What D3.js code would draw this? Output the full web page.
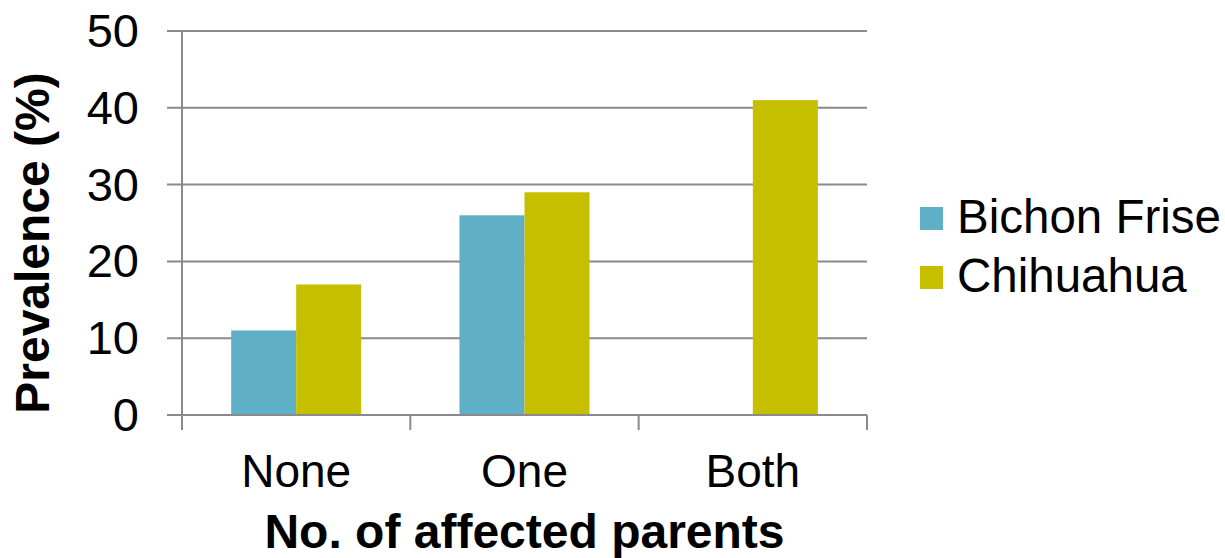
<!DOCTYPE html>
<html>
<head>
<meta charset="utf-8">
<script src="https://cdn.jsdelivr.net/npm/d3@7"></script>
<style>
  body { margin: 0; background: #fff; }
  text { font-family: "Liberation Sans", Arial, sans-serif; fill: #000; }
</style>
</head>
<body>
<svg id="chart" width="1225" height="558"></svg>
<script>
const categories = ['None', 'One', 'Both'];
const seriesNames = ['Bichon Frise', 'Chihuahua'];
const bichonValues = [11, 26, 0];
const chihuahuaValues = [17, 29, 41];
const yTicks = [0, 10, 20, 30, 40, 50];
const colors = ['#5fafc6', '#c6bf00'];

const svg = d3.select('#chart');
const plotLeft = 182, plotRight = 867, plotTop = 31, plotBottom = 415;

const x0 = d3.scaleBand().domain(categories).range([plotLeft, plotRight]).padding(0);
const x1 = d3.scaleBand().domain(seriesNames).range([0, x0.bandwidth()]).paddingInner(0).paddingOuter(0.756);
const y = d3.scaleLinear().domain([0, 50]).range([plotBottom, plotTop]);

// gridlines
svg.append('g')
  .selectAll('line')
  .data(yTicks)
  .join('line')
  .attr('x1', plotLeft - 15)
  .attr('x2', plotRight)
  .attr('y1', (d) => y(d))
  .attr('y2', (d) => y(d))
  .attr('stroke', '#8a8a8a')
  .attr('stroke-width', 2);

// y axis line
svg.append('line')
  .attr('x1', plotLeft).attr('x2', plotLeft)
  .attr('y1', plotTop).attr('y2', plotBottom)
  .attr('stroke', '#8a8a8a').attr('stroke-width', 2);

// x tick marks at category boundaries
const boundaries = categories.map((c) => x0(c)).concat([plotRight]);
svg.append('g')
  .selectAll('line')
  .data(boundaries)
  .join('line')
  .attr('x1', (d) => d).attr('x2', (d) => d)
  .attr('y1', plotBottom).attr('y2', plotBottom + 15)
  .attr('stroke', '#8a8a8a').attr('stroke-width', 2);

// bars
const rows = categories.map((c, i) => ({
  cat: c,
  vals: [bichonValues[i], chihuahuaValues[i]]
}));

svg.append('g')
  .selectAll('g')
  .data(rows)
  .join('g')
  .attr('transform', (d) => `translate(${x0(d.cat)},0)`)
  .selectAll('rect')
  .data((d) => d.vals.map((v, j) => ({ name: seriesNames[j], v, j })))
  .join('rect')
  .attr('x', (d) => x1(d.name))
  .attr('width', x1.bandwidth())
  .attr('y', (d) => y(d.v))
  .attr('height', (d) => y(0) - y(d.v))
  .attr('fill', (d) => colors[d.j]);

// baseline over bars
svg.append('line')
  .attr('x1', plotLeft - 15).attr('x2', plotRight)
  .attr('y1', plotBottom).attr('y2', plotBottom)
  .attr('stroke', '#8a8a8a').attr('stroke-width', 2);

// y tick labels
svg.append('g')
  .selectAll('text')
  .data(yTicks)
  .join('text')
  .attr('x', 139)
  .attr('y', (d) => y(d) + 16)
  .attr('text-anchor', 'end')
  .attr('font-size', 47)
  .text((d) => d);

// x labels
svg.append('g')
  .selectAll('text')
  .data(categories)
  .join('text')
  .attr('x', (d) => x0(d) + x0.bandwidth() / 2)
  .attr('y', 487)
  .attr('text-anchor', 'middle')
  .attr('font-size', 46)
  .text((d) => d);

// axis titles
svg.append('text')
  .attr('x', (plotLeft + plotRight) / 2)
  .attr('y', 548)
  .attr('text-anchor', 'middle')
  .attr('font-size', 48)
  .attr('font-weight', 'bold')
  .text('No. of affected parents');

svg.append('text')
  .attr('transform', `translate(49,243) rotate(-90)`)
  .attr('text-anchor', 'middle')
  .attr('font-size', 48)
  .attr('font-weight', 'bold')
  .text('Prevalence (%)');

// legend
const legend = svg.append('g')
  .selectAll('g')
  .data(seriesNames)
  .join('g')
  .attr('transform', (d, i) => `translate(920,${207 + i * 59})`);

legend.append('rect')
  .attr('width', 23).attr('height', 23)
  .attr('fill', (d, i) => colors[i]);

legend.append('text')
  .attr('x', 37)
  .attr('y', 26)
  .attr('font-size', 47.5)
  .text((d) => d);
</script>
</body>
</html>
